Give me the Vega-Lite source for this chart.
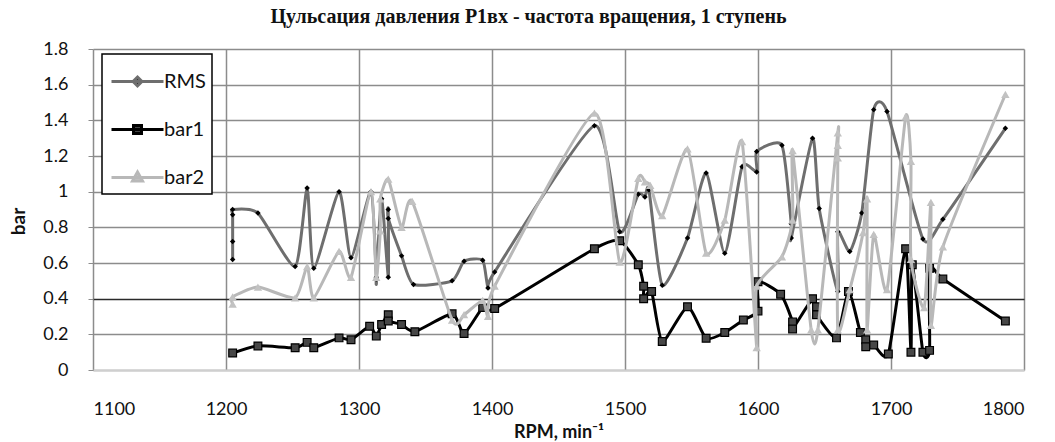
{
  "$schema": "https://vega.github.io/schema/vega-lite/v6.json",
  "width": 931,
  "height": 321,
  "autosize": "none",
  "padding": {"left": 93, "top": 49, "right": 31, "bottom": 72},
  "background": "white",
  "config": {"view": {"stroke": null}, "font": "Lato"},
  "title": {
    "text": "Цульсация давления P1вх - частота вращения, 1 ступень",
    "font": "Liberation Serif",
    "fontSize": 20,
    "fontWeight": "bold",
    "color": "#111111",
    "anchor": "middle",
    "dx": -30,
    "offset": 13
  },
  "data": {
    "values": [
      {"s": "RMS", "i": 1, "rpm": 1205, "v": 0.62},
      {"s": "RMS", "i": 2, "rpm": 1205, "v": 0.72},
      {"s": "RMS", "i": 3, "rpm": 1205, "v": 0.87},
      {"s": "RMS", "i": 4, "rpm": 1205, "v": 0.9},
      {"s": "RMS", "i": 5, "rpm": 1224, "v": 0.88},
      {"s": "RMS", "i": 6, "rpm": 1252, "v": 0.58},
      {"s": "RMS", "i": 7, "rpm": 1261, "v": 1.02},
      {"s": "RMS", "i": 8, "rpm": 1266, "v": 0.57},
      {"s": "RMS", "i": 9, "rpm": 1285, "v": 1.0},
      {"s": "RMS", "i": 10, "rpm": 1294, "v": 0.63},
      {"s": "RMS", "i": 11, "rpm": 1309, "v": 1.0},
      {"s": "RMS", "i": 12, "rpm": 1313, "v": 0.52},
      {"s": "RMS", "i": 13, "rpm": 1313, "v": 0.51},
      {"s": "RMS", "i": 14, "rpm": 1317, "v": 0.96},
      {"s": "RMS", "i": 15, "rpm": 1322, "v": 0.52},
      {"s": "RMS", "i": 16, "rpm": 1322, "v": 0.9},
      {"s": "RMS", "i": 17, "rpm": 1322, "v": 0.85},
      {"s": "RMS", "i": 18, "rpm": 1332, "v": 0.64},
      {"s": "RMS", "i": 19, "rpm": 1341, "v": 0.48},
      {"s": "RMS", "i": 20, "rpm": 1370, "v": 0.5},
      {"s": "RMS", "i": 21, "rpm": 1379, "v": 0.61},
      {"s": "RMS", "i": 22, "rpm": 1393, "v": 0.615},
      {"s": "RMS", "i": 23, "rpm": 1397, "v": 0.46},
      {"s": "RMS", "i": 24, "rpm": 1402, "v": 0.55},
      {"s": "RMS", "i": 25, "rpm": 1477, "v": 1.37},
      {"s": "RMS", "i": 26, "rpm": 1496, "v": 0.775},
      {"s": "RMS", "i": 27, "rpm": 1510, "v": 0.985},
      {"s": "RMS", "i": 28, "rpm": 1515, "v": 0.97},
      {"s": "RMS", "i": 29, "rpm": 1518, "v": 1.01},
      {"s": "RMS", "i": 30, "rpm": 1528, "v": 0.475},
      {"s": "RMS", "i": 31, "rpm": 1547, "v": 0.74},
      {"s": "RMS", "i": 32, "rpm": 1561, "v": 1.105},
      {"s": "RMS", "i": 33, "rpm": 1575, "v": 0.655},
      {"s": "RMS", "i": 34, "rpm": 1588, "v": 1.14},
      {"s": "RMS", "i": 35, "rpm": 1599, "v": 1.11},
      {"s": "RMS", "i": 36, "rpm": 1599, "v": 1.225},
      {"s": "RMS", "i": 37, "rpm": 1618, "v": 1.26},
      {"s": "RMS", "i": 38, "rpm": 1625, "v": 0.82},
      {"s": "RMS", "i": 39, "rpm": 1625, "v": 0.74},
      {"s": "RMS", "i": 40, "rpm": 1641, "v": 1.3},
      {"s": "RMS", "i": 41, "rpm": 1646, "v": 0.905},
      {"s": "RMS", "i": 42, "rpm": 1660, "v": 0.44},
      {"s": "RMS", "i": 43, "rpm": 1660, "v": 0.775},
      {"s": "RMS", "i": 44, "rpm": 1669, "v": 0.665},
      {"s": "RMS", "i": 45, "rpm": 1678, "v": 0.88},
      {"s": "RMS", "i": 46, "rpm": 1687, "v": 1.46},
      {"s": "RMS", "i": 47, "rpm": 1697, "v": 1.45},
      {"s": "RMS", "i": 48, "rpm": 1724, "v": 0.735},
      {"s": "RMS", "i": 49, "rpm": 1739, "v": 0.845},
      {"s": "RMS", "i": 50, "rpm": 1786, "v": 1.355},

      {"s": "bar1", "i": 1, "rpm": 1205, "v": 0.095},
      {"s": "bar1", "i": 2, "rpm": 1224, "v": 0.135},
      {"s": "bar1", "i": 3, "rpm": 1252, "v": 0.125},
      {"s": "bar1", "i": 4, "rpm": 1261, "v": 0.155},
      {"s": "bar1", "i": 5, "rpm": 1266, "v": 0.125},
      {"s": "bar1", "i": 6, "rpm": 1285, "v": 0.18},
      {"s": "bar1", "i": 7, "rpm": 1294, "v": 0.17},
      {"s": "bar1", "i": 8, "rpm": 1308, "v": 0.245},
      {"s": "bar1", "i": 9, "rpm": 1313, "v": 0.19},
      {"s": "bar1", "i": 10, "rpm": 1317, "v": 0.255},
      {"s": "bar1", "i": 11, "rpm": 1322, "v": 0.31},
      {"s": "bar1", "i": 12, "rpm": 1322, "v": 0.275},
      {"s": "bar1", "i": 13, "rpm": 1332, "v": 0.255},
      {"s": "bar1", "i": 14, "rpm": 1342, "v": 0.215},
      {"s": "bar1", "i": 15, "rpm": 1370, "v": 0.315},
      {"s": "bar1", "i": 16, "rpm": 1379, "v": 0.205},
      {"s": "bar1", "i": 17, "rpm": 1393, "v": 0.35},
      {"s": "bar1", "i": 18, "rpm": 1402, "v": 0.345},
      {"s": "bar1", "i": 19, "rpm": 1477, "v": 0.68},
      {"s": "bar1", "i": 20, "rpm": 1496, "v": 0.725},
      {"s": "bar1", "i": 21, "rpm": 1510, "v": 0.59},
      {"s": "bar1", "i": 22, "rpm": 1514, "v": 0.47},
      {"s": "bar1", "i": 23, "rpm": 1514, "v": 0.4},
      {"s": "bar1", "i": 24, "rpm": 1520, "v": 0.44},
      {"s": "bar1", "i": 25, "rpm": 1528, "v": 0.16},
      {"s": "bar1", "i": 26, "rpm": 1547, "v": 0.355},
      {"s": "bar1", "i": 27, "rpm": 1561, "v": 0.178},
      {"s": "bar1", "i": 28, "rpm": 1575, "v": 0.21},
      {"s": "bar1", "i": 29, "rpm": 1589, "v": 0.28},
      {"s": "bar1", "i": 30, "rpm": 1600, "v": 0.33},
      {"s": "bar1", "i": 31, "rpm": 1600, "v": 0.495},
      {"s": "bar1", "i": 32, "rpm": 1617, "v": 0.425},
      {"s": "bar1", "i": 33, "rpm": 1626, "v": 0.27},
      {"s": "bar1", "i": 34, "rpm": 1626, "v": 0.23},
      {"s": "bar1", "i": 35, "rpm": 1641, "v": 0.4},
      {"s": "bar1", "i": 36, "rpm": 1644, "v": 0.355},
      {"s": "bar1", "i": 37, "rpm": 1644, "v": 0.31},
      {"s": "bar1", "i": 38, "rpm": 1659, "v": 0.18},
      {"s": "bar1", "i": 39, "rpm": 1668, "v": 0.44},
      {"s": "bar1", "i": 40, "rpm": 1677, "v": 0.21},
      {"s": "bar1", "i": 41, "rpm": 1681, "v": 0.17},
      {"s": "bar1", "i": 42, "rpm": 1681, "v": 0.13},
      {"s": "bar1", "i": 43, "rpm": 1687, "v": 0.14},
      {"s": "bar1", "i": 44, "rpm": 1698, "v": 0.09},
      {"s": "bar1", "i": 45, "rpm": 1711, "v": 0.68},
      {"s": "bar1", "i": 46, "rpm": 1715, "v": 0.1},
      {"s": "bar1", "i": 47, "rpm": 1716, "v": 0.59},
      {"s": "bar1", "i": 48, "rpm": 1724, "v": 0.1},
      {"s": "bar1", "i": 49, "rpm": 1729, "v": 0.11},
      {"s": "bar1", "i": 50, "rpm": 1729, "v": 0.57},
      {"s": "bar1", "i": 51, "rpm": 1739, "v": 0.51},
      {"s": "bar1", "i": 52, "rpm": 1786, "v": 0.275},

      {"s": "bar2", "i": 1, "rpm": 1205, "v": 0.37},
      {"s": "bar2", "i": 2, "rpm": 1205, "v": 0.41},
      {"s": "bar2", "i": 3, "rpm": 1224, "v": 0.465},
      {"s": "bar2", "i": 4, "rpm": 1252, "v": 0.405},
      {"s": "bar2", "i": 5, "rpm": 1261, "v": 0.58},
      {"s": "bar2", "i": 6, "rpm": 1266, "v": 0.405},
      {"s": "bar2", "i": 7, "rpm": 1285, "v": 0.665},
      {"s": "bar2", "i": 8, "rpm": 1294, "v": 0.52},
      {"s": "bar2", "i": 9, "rpm": 1309, "v": 1.0},
      {"s": "bar2", "i": 10, "rpm": 1313, "v": 0.52},
      {"s": "bar2", "i": 11, "rpm": 1316, "v": 0.78},
      {"s": "bar2", "i": 12, "rpm": 1316, "v": 0.96},
      {"s": "bar2", "i": 13, "rpm": 1322, "v": 1.07},
      {"s": "bar2", "i": 14, "rpm": 1332, "v": 0.8},
      {"s": "bar2", "i": 15, "rpm": 1340, "v": 0.945},
      {"s": "bar2", "i": 16, "rpm": 1370, "v": 0.28},
      {"s": "bar2", "i": 17, "rpm": 1379, "v": 0.31},
      {"s": "bar2", "i": 18, "rpm": 1393, "v": 0.39},
      {"s": "bar2", "i": 19, "rpm": 1397, "v": 0.3},
      {"s": "bar2", "i": 20, "rpm": 1402, "v": 0.47},
      {"s": "bar2", "i": 21, "rpm": 1477, "v": 1.44},
      {"s": "bar2", "i": 22, "rpm": 1496, "v": 0.605},
      {"s": "bar2", "i": 23, "rpm": 1510, "v": 1.075},
      {"s": "bar2", "i": 24, "rpm": 1515, "v": 1.055},
      {"s": "bar2", "i": 25, "rpm": 1519, "v": 1.035},
      {"s": "bar2", "i": 26, "rpm": 1528, "v": 0.865},
      {"s": "bar2", "i": 27, "rpm": 1547, "v": 1.24},
      {"s": "bar2", "i": 28, "rpm": 1561, "v": 0.655},
      {"s": "bar2", "i": 29, "rpm": 1575, "v": 0.84},
      {"s": "bar2", "i": 30, "rpm": 1588, "v": 1.28},
      {"s": "bar2", "i": 31, "rpm": 1599, "v": 0.125},
      {"s": "bar2", "i": 32, "rpm": 1599, "v": 0.47},
      {"s": "bar2", "i": 33, "rpm": 1618, "v": 0.635},
      {"s": "bar2", "i": 34, "rpm": 1626, "v": 0.84},
      {"s": "bar2", "i": 35, "rpm": 1626, "v": 1.23},
      {"s": "bar2", "i": 36, "rpm": 1640, "v": 0.225},
      {"s": "bar2", "i": 37, "rpm": 1645, "v": 0.225},
      {"s": "bar2", "i": 38, "rpm": 1660, "v": 1.33},
      {"s": "bar2", "i": 39, "rpm": 1660, "v": 1.26},
      {"s": "bar2", "i": 40, "rpm": 1660, "v": 1.19},
      {"s": "bar2", "i": 41, "rpm": 1660, "v": 0.225},
      {"s": "bar2", "i": 42, "rpm": 1669, "v": 0.45},
      {"s": "bar2", "i": 43, "rpm": 1679, "v": 0.77},
      {"s": "bar2", "i": 44, "rpm": 1682, "v": 0.96},
      {"s": "bar2", "i": 45, "rpm": 1682, "v": 0.225},
      {"s": "bar2", "i": 46, "rpm": 1687, "v": 0.76},
      {"s": "bar2", "i": 47, "rpm": 1697, "v": 0.45},
      {"s": "bar2", "i": 48, "rpm": 1711, "v": 1.42},
      {"s": "bar2", "i": 49, "rpm": 1715, "v": 1.17},
      {"s": "bar2", "i": 50, "rpm": 1715, "v": 0.62},
      {"s": "bar2", "i": 51, "rpm": 1725, "v": 0.35},
      {"s": "bar2", "i": 52, "rpm": 1730, "v": 0.94},
      {"s": "bar2", "i": 53, "rpm": 1730, "v": 0.25},
      {"s": "bar2", "i": 54, "rpm": 1739, "v": 0.69},
      {"s": "bar2", "i": 55, "rpm": 1786, "v": 1.545}
    ]
  },
  "encoding": {
    "x": {
      "field": "rpm",
      "type": "quantitative",
      "scale": {"domain": [1100, 1800], "nice": false, "zero": false},
      "axis": {
        "values": [1100, 1200, 1300, 1400, 1500, 1600, 1700, 1800],
        "format": "d",
        "title": "RPM, min⁻¹",
        "titleFont": "Lato",
        "titleFontSize": 18,
        "titleFontWeight": "bold",
        "titleColor": "#111111",
        "titlePadding": 5,
        "labelFont": "Lato",
        "labelFontSize": 18,
        "labelColor": "#111111",
        "labelPadding": 30,
        "ticks": false,
        "domainColor": "#cfcfcf",
        "domainWidth": 2,
        "gridColor": "#8c8c8c",
        "gridWidth": 1.5
      }
    },
    "y": {
      "field": "v",
      "type": "quantitative",
      "scale": {"domain": [0, 1.8], "nice": false},
      "axis": {
        "values": [0, 0.2, 0.4, 0.6, 0.8, 1, 1.2, 1.4, 1.6, 1.8],
        "format": "~g",
        "title": "bar",
        "titleFont": "Lato",
        "titleFontSize": 19,
        "titleFontWeight": "bold",
        "titleColor": "#111111",
        "titlePadding": 14,
        "titleY": 172,
        "labelFont": "Lato",
        "labelFontSize": 18,
        "labelColor": "#111111",
        "labelPadding": 20,
        "tickSize": 5,
        "tickColor": "#8c8c8c",
        "domain": false,
        "gridColor": {"condition": {"test": "datum.value === 0.4", "value": "#2a2a2a"}, "value": "#8c8c8c"},
        "gridWidth": 1.5
      }
    },
    "order": {"field": "i", "type": "quantitative"}
  },
  "layer": [
    {
      "transform": [{"filter": "datum.s === 'RMS'"}],
      "mark": {"type": "line", "interpolate": "cardinal", "tension": 0.4, "strokeWidth": 3},
      "encoding": {
        "color": {
          "field": "s",
          "type": "nominal",
          "scale": {"domain": ["RMS", "bar1", "bar2"], "range": ["#6e6e6e", "#000000", "#b8b8b8"]},
          "legend": {
            "title": null,
            "orient": "none",
            "direction": "vertical",
            "columns": 1,
            "legendX": 9,
            "legendY": 5,
            "fillColor": "white",
            "strokeColor": "#000000",
            "padding": 6,
            "symbolOffset": 8,
            "labelOffset": 5,
            "rowPadding": 16,
            "symbolSize": 1600,
            "symbolStrokeWidth": 3,
            "labelFont": "Lato",
            "labelFontSize": 20,
            "labelColor": "#111111",
            "encode": {
              "legend": {"update": {"strokeWidth": {"value": 1.5}}},
              "symbols": {
                "update": {
                  "shape": {"signal": "datum.value === 'RMS' ? 'M-1.3,0L1.3,0M0,-0.22L0.22,0L0,0.22L-0.22,0Z' : datum.value === 'bar1' ? 'M-1.3,0L1.3,0M-0.2,-0.2L0.2,-0.2L0.2,0.2L-0.2,0.2Z' : 'M-1.3,0L1.3,0M0,-0.27L0.25,0.18L-0.25,0.18Z'"},
                  "fill": {"signal": "datum.value === 'RMS' ? '#000000' : datum.value === 'bar1' ? '#444444' : '#c8c8c8'"}
                }
              }
            }
          }
        }
      }
    },
    {
      "transform": [{"filter": "datum.s === 'RMS'"}],
      "mark": {"type": "point", "shape": "diamond", "filled": true, "size": 30, "opacity": 1},
      "encoding": {"color": {"value": "#000000"}}
    },
    {
      "transform": [{"filter": "datum.s === 'bar1'"}],
      "mark": {"type": "line", "interpolate": "cardinal", "tension": 0.4, "strokeWidth": 3},
      "encoding": {"color": {"field": "s", "type": "nominal"}}
    },
    {
      "transform": [{"filter": "datum.s === 'bar1'"}],
      "mark": {"type": "point", "shape": "square", "filled": true, "size": 60, "opacity": 1, "stroke": "#000000", "strokeWidth": 1.2},
      "encoding": {"color": {"value": "#474747"}}
    },
    {
      "transform": [{"filter": "datum.s === 'bar2'"}],
      "mark": {"type": "line", "interpolate": "cardinal", "tension": 0.4, "strokeWidth": 3},
      "encoding": {"color": {"field": "s", "type": "nominal"}}
    },
    {
      "transform": [{"filter": "datum.s === 'bar2'"}],
      "mark": {"type": "point", "shape": "triangle-up", "filled": true, "size": 70, "opacity": 1},
      "encoding": {"color": {"value": "#c2c2c2"}}
    }
  ]
}
